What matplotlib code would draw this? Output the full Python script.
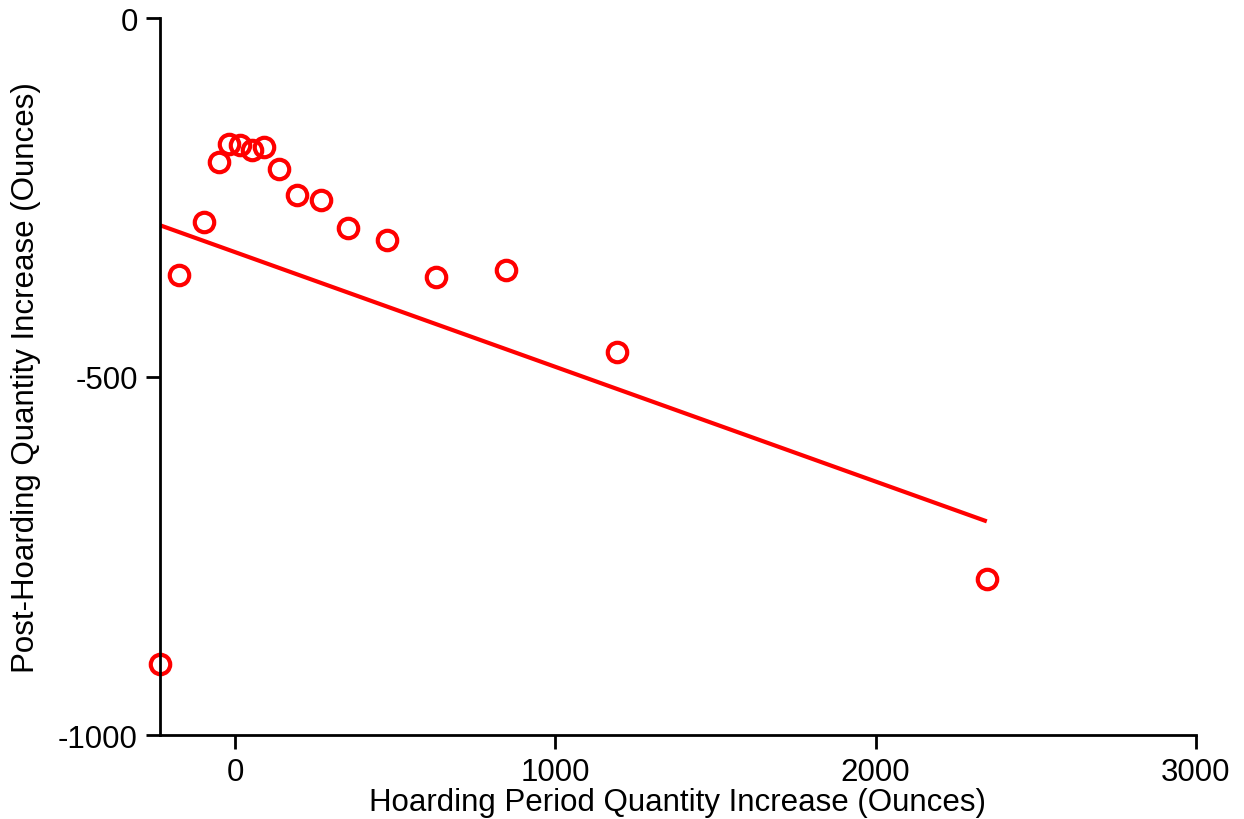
import numpy as np
import matplotlib.pyplot as plt

plt.rcParams['font.family'] = ['Liberation Sans', 'DejaVu Sans']
plt.rcParams['axes.unicode_minus'] = False

# Dados
hoard_x = [-234, -175, -97, -50, -19, 16, 53, 91, 138, 194, 269, 353, 475, 628, 847, 1194, 2347]
post_y = [-901, -358, -285, -201, -176, -177, -184, -180, -211, -247, -254, -293, -310, -361, -351, -466, -782]

# Reta ajustada (extremos)
fit_x = [-234, 2347]
fit_y = [-289, -702]

fig = plt.figure(figsize=(12.44, 8.2), dpi=100)
ax = fig.add_axes([0.1286, 0.1024, 0.8328, 0.8744])

ax.plot(fit_x, fit_y, color='#ff0000', lw=3, solid_capstyle='butt')
ax.plot(hoard_x, post_y, 'o', ms=14, mfc='none', mec='#ff0000', mew=3, ls='none', clip_on=False)

ax.set_xlim(-234, 3000)
ax.set_ylim(-1000, 0)
ax.set_xticks([0, 1000, 2000, 3000])
ax.set_yticks([-1000, -500, 0])
ax.spines['top'].set_visible(False)
ax.spines['right'].set_visible(False)
for s in ['left', 'bottom']:
    ax.spines[s].set_linewidth(2)
ax.tick_params(axis='both', direction='out', length=10, width=2, labelsize=22.5, pad=6)
ax.set_xlabel('Hoarding Period Quantity Increase (Ounces)', fontsize=22.5, labelpad=0)
ax.set_ylabel('Post-Hoarding Quantity Increase (Ounces)', fontsize=22.5, labelpad=12)

fig.savefig('out.png', dpi=100)
